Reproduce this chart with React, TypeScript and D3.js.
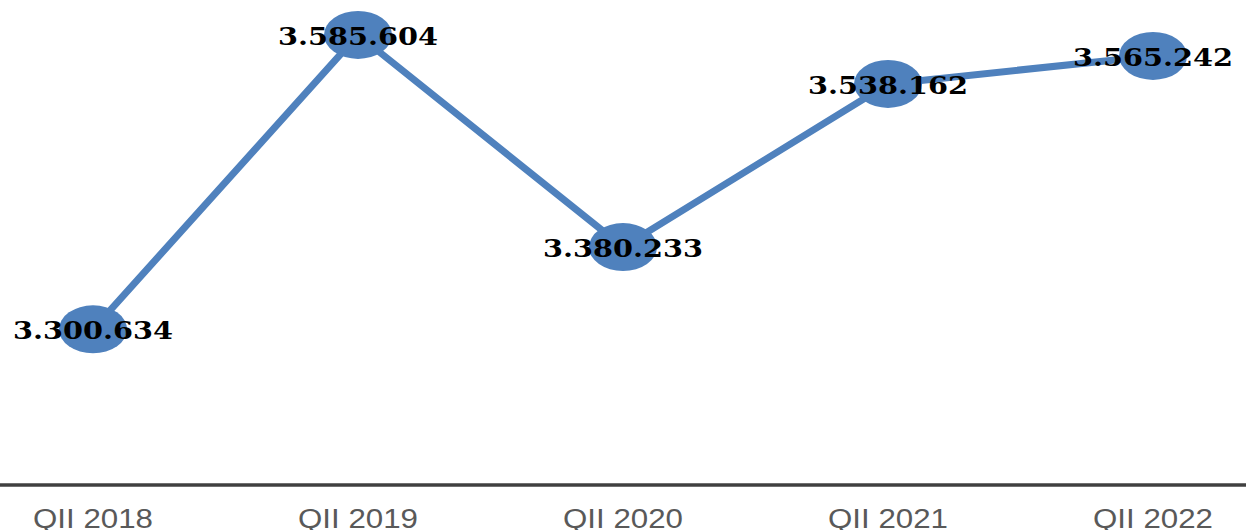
import React from "react";
import * as d3 from "d3";

const categories = ["QII 2018", "QII 2019", "QII 2020", "QII 2021", "QII 2022"];
const values = [3300634, 3585604, 3380233, 3538162, 3565242];
const valueLabels = ["3.300.634", "3.585.604", "3.380.233", "3.538.162", "3.565.242"];

const W = 1246;
const H = 530;

export default function App() {
  const x = d3.scalePoint<string>().domain(categories).range([0, W]).padding(0.351);
  const y = d3.scaleLinear().domain([3150000, 3600000]).range([485, 20]);
  const line = d3
    .line<number>()
    .x((_, i) => x(categories[i]) as number)
    .y((d) => y(d));
  const axisY = y(3150000);

  return (
    <svg
      width={W}
      height={H}
      style={{ position: "absolute", left: 0, top: 0, background: "#fff" }}
    >
      <path d={line(values) || ""} fill="none" stroke="#4f81bd" strokeWidth={7} strokeLinejoin="round" />
      <line x1={0} x2={W} y1={axisY} y2={axisY} stroke="#404040" strokeWidth={3.5} />
      {values.map((v, i) => (
        <ellipse key={"e" + i} cx={x(categories[i])} cy={y(v)} rx={34} ry={24} fill="#4f81bd" />
      ))}
      {values.map((v, i) => (
        <text
          key={"t" + i}
          x={x(categories[i])}
          y={y(v) + 10}
          textAnchor="middle"
          fontFamily="'DejaVu Serif', serif"
          fontWeight="bold"
          fontSize={25}
          textLength={160}
          lengthAdjust="spacingAndGlyphs"
          fill="#000"
        >
          {valueLabels[i]}
        </text>
      ))}
      {categories.map((c) => (
        <text
          key={c}
          x={x(c)}
          y={528}
          textAnchor="middle"
          fontFamily="'Liberation Sans', 'DejaVu Sans', sans-serif"
          fontSize={27}
          textLength={120}
          lengthAdjust="spacingAndGlyphs"
          fill="#595959"
        >
          {c}
        </text>
      ))}
    </svg>
  );
}
